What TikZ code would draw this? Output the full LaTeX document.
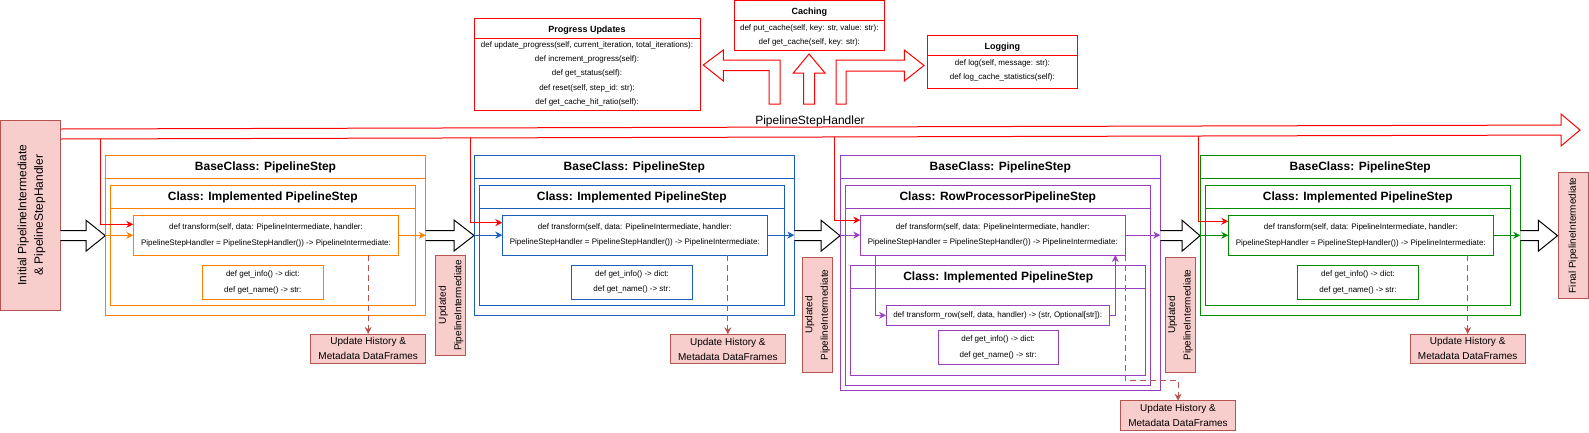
\documentclass[tikz,border=0pt]{standalone}
\usepackage{fontspec}
\setmainfont{Liberation Sans}
\usetikzlibrary{arrows.meta,calc}
\definecolor{cOr}{HTML}{FF8000}
\definecolor{cBl}{HTML}{1A5EB8}
\definecolor{cPu}{HTML}{9A3FC0}
\definecolor{cGr}{HTML}{008C00}
\definecolor{cRd}{HTML}{FF0000}
\definecolor{pinkF}{HTML}{F8CECC}
\definecolor{pinkS}{HTML}{B85450}
\newcommand\mybox[7]{\node[box,#6,minimum width={(#4-#2)*1pt},minimum height={(#5-#3)*1pt}] (#1) at (#2,#3) {#7};}
\newcommand\mysep[3]{\draw[#3,line width=1pt] ([yshift=-#2pt]#1.north west) -- ([yshift=-#2pt]#1.north east);}
\newcommand\barrow[4]{\draw[blk] (#1,#4-5) -- (#2,#4-5) -- (#2,#4-15.5) -- (#3,#4) -- (#2,#4+15.5) -- (#2,#4+5) -- (#1,#4+5);}
\begin{document}
\begin{tikzpicture}[x=1pt,y=-1pt,
  box/.style={draw,line width=1pt,anchor=north west,inner sep=0pt,outer sep=0pt,fill=white},
  pinkbox/.style={draw=pinkS,fill=pinkF},
  code/.style={font=\fontsize{8}{15.3}\selectfont,align=center},
  tcode/.style={font=\fontsize{8}{14.4}\selectfont,align=center,inner sep=0pt},
  ttl/.style={font=\fontsize{12}{14}\selectfont\bfseries,inner sep=0pt},
  sttl/.style={font=\fontsize{9}{11}\selectfont\bfseries,inner sep=0pt},
  hist/.style={font=\fontsize{10}{15}\selectfont,align=center},
  rot/.style={rotate=90,align=center,inner sep=0pt,font=\fontsize{10}{15.5}\selectfont},
  conn/.style={line width=1pt,-{Stealth[length=7pt,width=7pt]}},
  dashc/.style={draw=pinkS,line width=1pt,dash pattern=on 6pt off 4pt,-{Stealth[length=7pt,width=7pt]}},
  blk/.style={draw=black,fill=white,line width=1pt,line join=miter},
  redarr/.style={draw=cRd,fill=white,line width=1pt,line join=miter}]
\useasboundingbox (0,0) rectangle (1589,432);

% ---------- top helper boxes ----------
\mybox{pu}{474.5}{18.3}{700}{110}{draw=cRd}{}
\mysep{pu}{20}{cRd}
\node[sttl] (put) at (587,30.5) {Progress Updates};
\node[tcode] (pum) at (587,73.8) {def update\_progress(self, current\_iteration, total\_iterations):\\def increment\_progress(self):\\def get\_status(self):\\def reset(self, step\_id: str):\\def get\_cache\_hit\_ratio(self):};

\mybox{ca}{734.3}{0.5}{884.3}{50}{draw=cRd}{}
\mysep{ca}{20.2}{cRd}
\node[sttl] (cat) at (809.3,12.5) {Caching};
\node[tcode] (cam) at (809.3,35.5) {def put\_cache(self, key: str, value: str):\\def get\_cache(self, key: str):};

\mybox{lg}{927.5}{35.7}{1077.3}{88.3}{draw=cRd}{}
\mysep{lg}{20}{cRd}
\node[sttl] (lgt) at (1002.4,47.5) {Logging};
\node[tcode] (lgm) at (1002.4,70.5) {def log(self, message: str):\\def log\_cache\_statistics(self):};

% top block arrows
\draw[redarr] (769,104) -- (769,70.5) -- (723.3,70.5) -- (723.3,81) -- (703.3,65) -- (723.3,50) -- (723.3,60) -- (780,60) -- (780,104) -- cycle;
\draw[redarr] (803.5,104) -- (803.5,73) -- (793.3,73) -- (809,54) -- (825,73) -- (814.5,73) -- (814.5,104) -- cycle;
\draw[redarr] (836,104) -- (836,60) -- (904.3,60) -- (904.3,50) -- (924,65.5) -- (904.3,81) -- (904.3,71) -- (846,71) -- (846,104) -- cycle;

% ---------- handler arrow ----------
\draw[redarr] (60,129) -- (1561,125.05) -- (1561,114) -- (1580,130) -- (1561,146) -- (1561,135.05) -- (60,139);
\node[font=\fontsize{12}{14}\selectfont,inner sep=0pt] (hl) at (810,121) {PipelineStepHandler};
\coordinate (h1) at (100,138.9);
\coordinate (h2) at (470,137.9);
\coordinate (h3) at (834,137);
\coordinate (h4) at (1198,136);

% ---------- pink boxes ----------
\mybox{init}{0.5}{120}{60.3}{310}{pinkbox}{}
\node[rot,font=\fontsize{12}{16.7}\selectfont] (initt) at (31.5,215) {Initial PipelineIntermediate\\\& PipelineStepHandler};
\mybox{u1}{435.7}{255.3}{465.3}{355.3}{pinkbox}{}
\node[rot] (u1t) at (451,305.3) {Updated\\PipelineIntermediate};
\mybox{u2}{802}{257.3}{832.3}{372.7}{pinkbox}{}
\node[rot] (u2t) at (817.5,315) {Updated\\PipelineIntermediate};
\mybox{u3}{1165}{257.3}{1195}{372.7}{pinkbox}{}
\node[rot] (u3t) at (1180.3,315) {Updated\\PipelineIntermediate};
\mybox{fin}{1558.3}{172.3}{1588.3}{298.3}{pinkbox}{}
\node[rot] (fint) at (1573.3,235.3) {Final PipelineIntermediate};

\mybox{hs1}{310.7}{334}{425.7}{363.5}{pinkbox,hist}{Update History \&\\Metadata DataFrames}
\mybox{hs2}{670}{334.3}{785.7}{363.7}{pinkbox,hist}{Update History \&\\Metadata DataFrames}
\mybox{hs3}{1120.7}{400.7}{1235.3}{430.7}{pinkbox,hist}{Update History \&\\Metadata DataFrames}
\mybox{hs4}{1410}{334}{1525.3}{363.5}{pinkbox,hist}{Update History \&\\Metadata DataFrames}

% ---------- step 1 (orange) ----------
\mybox{b1}{105.3}{155.3}{425.7}{315}{draw=cOr}{}
\mysep{b1}{23}{cOr}
\node[ttl] (b1t) at (265.5,167.3) {BaseClass: PipelineStep};
\mybox{c1}{110.3}{185.3}{415.3}{305.3}{draw=cOr}{}
\mysep{c1}{23}{cOr}
\node[ttl] (c1t) at (262.8,197.3) {Class: Implemented PipelineStep};
\mybox{t1}{133.3}{215.3}{398.7}{255.3}{draw=cOr,code}{def transform(self, data: PipelineIntermediate, handler:\\PipelineStepHandler = PipelineStepHandler()) -> PipelineIntermediate:}
\mybox{i1}{202.3}{265.3}{323.3}{299.3}{draw=cOr,code}{def get\_info() -> dict:\\def get\_name() -> str:}

% ---------- step 2 (blue) ----------
\mybox{b2}{474.3}{155.3}{794.3}{315}{draw=cBl}{}
\mysep{b2}{23}{cBl}
\node[ttl] (b2t) at (634.3,167.3) {BaseClass: PipelineStep};
\mybox{c2}{479.3}{185.3}{784.3}{305}{draw=cBl}{}
\mysep{c2}{23}{cBl}
\node[ttl] (c2t) at (631.8,197.3) {Class: Implemented PipelineStep};
\mybox{t2}{502.3}{215.3}{767.3}{255}{draw=cBl,code}{def transform(self, data: PipelineIntermediate, handler:\\PipelineStepHandler = PipelineStepHandler()) -> PipelineIntermediate:}
\mybox{i2}{571.7}{265.3}{692.3}{299}{draw=cBl,code}{def get\_info() -> dict:\\def get\_name() -> str:}

% ---------- step 3 (purple) ----------
\mybox{b3}{840.3}{155.3}{1160.3}{390}{draw=cPu}{}
\mysep{b3}{23}{cPu}
\node[ttl] (b3t) at (1000.3,167.3) {BaseClass: PipelineStep};
\mybox{c3}{845.3}{185.3}{1150.3}{385.7}{draw=cPu}{}
\mysep{c3}{23}{cPu}
\node[ttl] (c3t) at (997.8,197.3) {Class: RowProcessorPipelineStep};
\mybox{t3}{860.3}{215.3}{1125.3}{255}{draw=cPu,code}{def transform(self, data: PipelineIntermediate, handler:\\PipelineStepHandler = PipelineStepHandler()) -> PipelineIntermediate:}
\mybox{d3}{850.7}{265.3}{1145.7}{375.3}{draw=cPu}{}
\mysep{d3}{23}{cPu}
\node[ttl] (d3t) at (998.2,277.5) {Class: Implemented PipelineStep};
\mybox{tr}{886}{305.3}{1109.3}{325.3}{draw=cPu,code}{def transform\_row(self, data, handler) -> (str, Optional[str]):}
\mybox{i3}{938}{330.3}{1058.3}{364.3}{draw=cPu,code}{def get\_info() -> dict:\\def get\_name() -> str:}

% ---------- step 4 (green) ----------
\mybox{b4}{1200}{155.3}{1520.3}{315}{draw=cGr}{}
\mysep{b4}{23}{cGr}
\node[ttl] (b4t) at (1360.2,167.3) {BaseClass: PipelineStep};
\mybox{c4}{1205.3}{185.3}{1510.3}{305.3}{draw=cGr}{}
\mysep{c4}{23}{cGr}
\node[ttl] (c4t) at (1357.8,197.3) {Class: Implemented PipelineStep};
\mybox{t4}{1228.3}{215.3}{1493.3}{255.3}{draw=cGr,code}{def transform(self, data: PipelineIntermediate, handler:\\PipelineStepHandler = PipelineStepHandler()) -> PipelineIntermediate:}
\mybox{i4}{1297.7}{265.3}{1418.3}{299.3}{draw=cGr,code}{def get\_info() -> dict:\\def get\_name() -> str:}

% ---------- black block arrows ----------
\barrow{60.3}{86}{105.3}{235.7}
\barrow{425.7}{454}{474}{235.5}
\barrow{794.3}{821}{840}{235.7}
\barrow{1160.3}{1182}{1200}{235.7}
\barrow{1520.3}{1538.3}{1557.5}{235.7}

% ---------- colored data connectors ----------
\draw[conn,cOr] (t1.west -| b1.west) -- (t1.west);
\draw[conn,cOr] (t1.east) -- (t1.east -| b1.east);
\draw[conn,cBl] (t2.west -| b2.west) -- (t2.west);
\draw[conn,cBl] (t2.east) -- (t2.east -| b2.east);
\draw[conn,cPu] (t3.west -| b3.west) -- (t3.west);
\draw[conn,cPu] (t3.east) -- (t3.east -| b3.east);
\draw[conn,cGr] (t4.west -| b4.west) -- (t4.west);
\draw[conn,cGr] (t4.east) -- (t4.east -| b4.east);

\draw[conn,cPu] ([xshift=15.5pt]t3.south west) |- (tr.west);
\draw[conn,cPu] (tr.east) -| ([xshift=-10pt]t3.south east);

% ---------- handler connectors ----------
\draw[conn,cRd] (h1) |- ([yshift=11pt]t1.west);
\draw[conn,cRd] (h2) |- ([yshift=12.5pt]t2.west);
\draw[conn,cRd] (h3) |- ([yshift=15pt]t3.west);
\draw[conn,cRd] (h4) |- ([yshift=14pt]t4.west);

% ---------- history connectors ----------
\draw[dashc] (t1.south -| hs1.north) -- (hs1.north);
\draw[dashc] (t2.south -| hs2.north) -- (hs2.north);
\draw[dashc] (t3.south east) -- ++(0,125) -| (hs3.north);
\draw[dashc] (t4.south -| hs4.north) -- (hs4.north);
\end{tikzpicture}
\end{document}
